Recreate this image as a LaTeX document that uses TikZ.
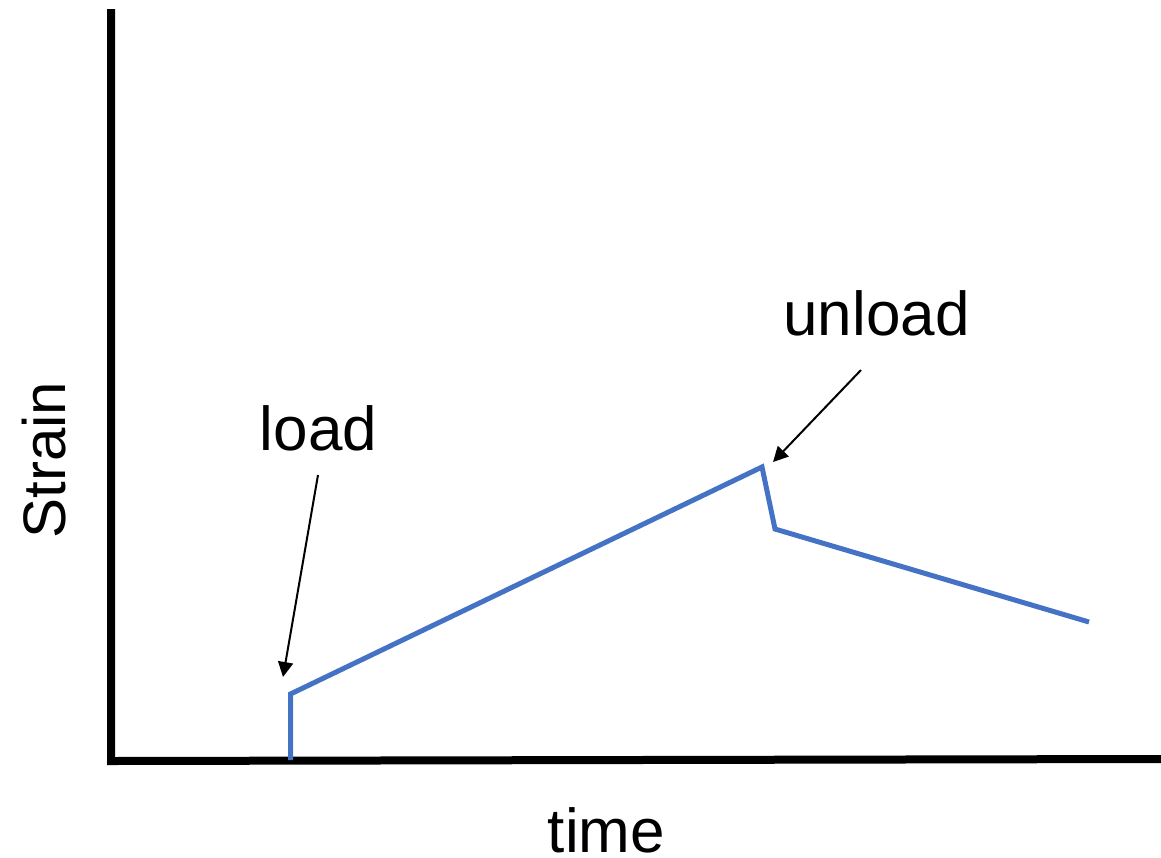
\documentclass[tikz,border=0pt]{standalone}
\usepackage{fontspec}
\setmainfont{Liberation Sans}
\usetikzlibrary{arrows.meta}
\begin{document}
\begin{tikzpicture}[x=1pt,y=-1pt,
  axis/.style={line width=8pt,black},
  curve/.style={line width=5pt,draw=curveblue,line join=miter},
  pointer/.style={line width=2pt,black,-{Triangle[length=15pt,width=15pt]}},
  lbl/.style={font=\fontsize{62}{74}\selectfont,inner sep=0pt,anchor=base}]
\definecolor{curveblue}{HTML}{4472C4}
\useasboundingbox (0,0) rectangle (1161,857);
% axes
\coordinate (top) at (111,9);
\coordinate (origin) at (111,761);
\coordinate (right) at (1161,759);
\draw[axis] (top) -- (origin) -- (right);
% curve
\coordinate (p0) at (290.5,760);
\coordinate (p1) at (290.5,694);
\coordinate (p2) at (762,467);
\coordinate (p3) at (775,529);
\coordinate (p4) at (1089,622);
\draw[curve] (p0) -- (p1) -- (p2) -- (p3) -- (p4);
% labels
\node[lbl] (load) at (318.5,450) {load};
\node[lbl] (unload) at (876.5,335) {unload};
\node[lbl] (time) at (606.5,852) {time};
\node[lbl,rotate=90,font=\fontsize{60}{72}\selectfont] (strain) at (65,460) {Strain};
% arrows
\coordinate (lt) at (283,677);
\coordinate (ut) at (773,462);
\draw[pointer] (318,475) -- (lt);
\draw[pointer] (861,370) -- (ut);
\end{tikzpicture}
\end{document}
